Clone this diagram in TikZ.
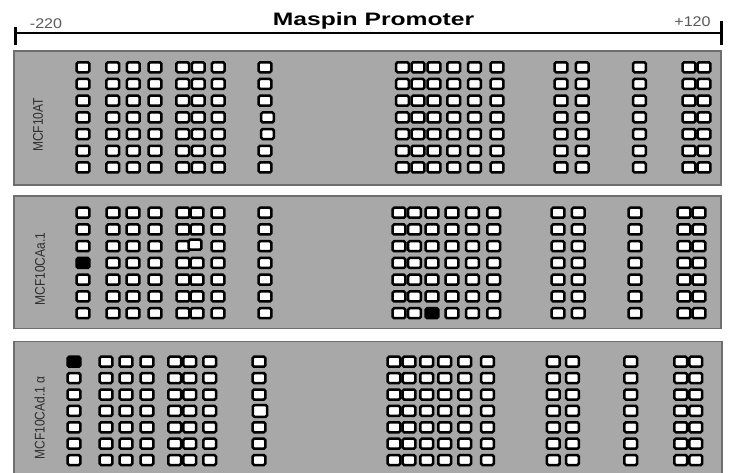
\documentclass[tikz,border=0pt]{standalone}
\usepackage{fontspec}
\setmainfont{Liberation Sans}
\definecolor{panelbg}{HTML}{A8A8A8}
\definecolor{panelrim}{HTML}{6E6E6E}
\definecolor{labelgray}{HTML}{2E2E2E}

\begin{document}
\begin{tikzpicture}[x=1pt,y=-1pt,
    cpg/.style={draw=black,fill=white,line width=2.5pt,rounded corners=1.5pt,inner sep=0pt,minimum width=12.7pt,minimum height=10pt},
    panel/.style={draw=panelrim,fill=panelbg,line width=1.3pt},
    cell/.style={rotate=90,xscale=0.86,text=labelgray,font=\fontsize{14}{14}\selectfont},
    endlbl/.style={anchor=base,text=labelgray!80,xscale=1.15,font=\fontsize{14}{14}\selectfont},
    % odd boxes
    a4-8/.style={xshift=2.5pt},a5-8/.style={xshift=2.5pt},
    b4-1/.style={fill=black},b7-11/.style={fill=black},b3-6/.style={xshift=-2pt,yshift=1.5pt},
    c1-1/.style={fill=black},c4-8/.style={minimum width=14.2pt,minimum height=11.7pt,xshift=1pt}]
  \clip (0,0) rectangle (730,473);
  % promoter scale
  \node[anchor=base,font=\bfseries\fontsize{18}{18}\selectfont,xscale=1.37] (title) at (373.5,26) {Maspin Promoter};
  \coordinate (s) at (15,33.5);
  \coordinate (e) at (721,33.5);
  \draw[line width=2pt] (s) -- (e);
  \draw[line width=3pt] (s) ++(0,-6.5) -- ++(0,18);
  \draw[line width=3pt] (e) ++(0,-12.5) -- ++(0,24);
  \node[endlbl] (start) at (46,29) {-220};
  \node[endlbl] (end) at (692.5,26.7) {+120};
  % panels
  \draw[panel] (14,51) rectangle (721,185);
  \draw[panel] (14,196) rectangle (721,328.5);
  \draw[panel] (14,341.5) rectangle (722,480);
  \node[cell] (at) at (38,125) {MCF10AT};
  \node[cell] (caa) at (40,269) {MCF10CAa.1};
  \node[cell] (cad) at (39.5,418) {MCF10CAd.1 α};
  % CpG sites
  \foreach \x [count=\c] in {83,112.7,133.3,155,182.7,198.3,218.3,265,402.5,418,434,453.8,474.5,497,561,582.3,639.5,689,704}
    \foreach \r in {1,...,7}
      \node[cpg,a\r-\c/.try] (a\r-\c) at (\x,{67.3+(\r-1)*16.7}) {};
  \foreach \x [count=\c] in {83,113,133,155,183,197,218,265,399,414.5,432,452,472.5,493.7,558,578.3,635,684,699}
    \foreach \r in {1,...,7}
      \node[cpg,b\r-\c/.try] (b\r-\c) at (\x,{212.7+(\r-1)*16.75}) {};
  \foreach \x [count=\c] in {74,106,126,147,174.7,189.7,209.7,259,394,409,426.7,444.7,464.7,487.5,553.3,572.5,630.8,680.8,695.8}
    \foreach \r in {1,...,7}
      \node[cpg,c\r-\c/.try] (c\r-\c) at (\x,{361.7+(\r-1)*16.4}) {};
\end{tikzpicture}
\end{document}
